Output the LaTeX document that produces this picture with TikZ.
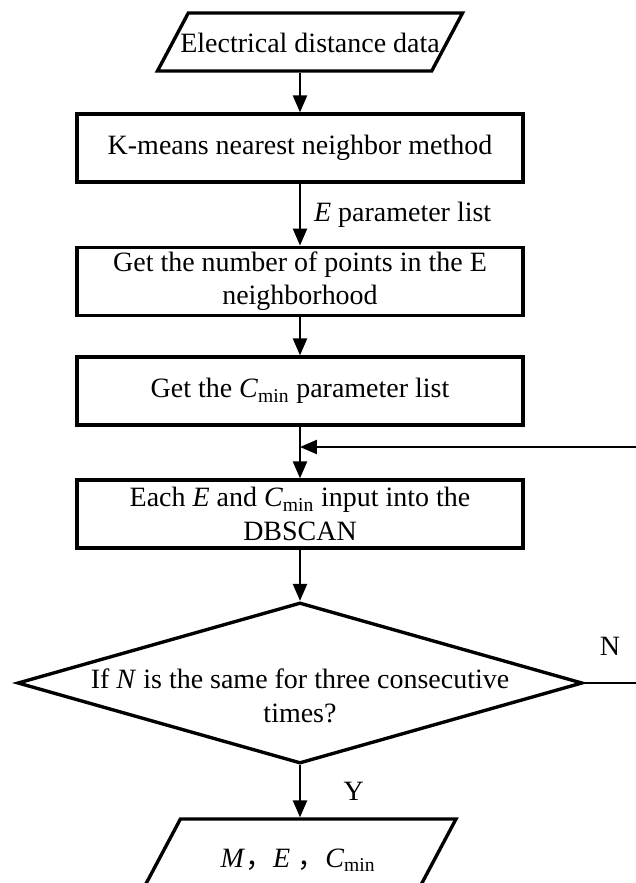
\documentclass[tikz,border=0pt]{standalone}
\usepackage{fontspec}
\setmainfont{Liberation Serif}
\newfontfamily\cjk{Noto Sans CJK SC}
\usetikzlibrary{shapes.geometric,arrows.meta}
\newcommand{\cmin}{\textit{C}\textsubscript{min}}

\begin{document}
\begin{tikzpicture}[font=\fontsize{19.9}{23.8}\selectfont,
    box/.style={draw,line width=2.4pt,minimum width=11.15cm,minimum height=1.7cm,align=center,inner sep=2pt},
    io/.style={draw,line width=2.4pt,trapezium,trapezium left angle=62,trapezium right angle=118,
      trapezium stretches body=true,text height=0.5cm,text depth=0cm,inner xsep=2pt},
    decision/.style={draw,line width=2.4pt,diamond,minimum width=14.125cm,minimum height=4.025cm,inner sep=0pt},
    flow/.style={line width=1.4pt,-{Triangle[length=12pt,width=10pt]}}]
  \useasboundingbox (0,0) rectangle (15.9,-22.075);
  \node[io,inner xsep=-0.2cm,inner ysep=0.475cm] (data) at (7.75,-1.05) {Electrical distance data};
  \node[box] (kmeans) at (7.5,-3.7) {K-means nearest neighbor method};
  \node[box] (count) at (7.5,-7.03) {Get the number of points in the E\\neighborhood};
  \node[box] (cminlist) at (7.5,-9.775) {Get the \cmin{} parameter list};
  \node[box] (dbscan) at (7.5,-12.85) {Each \textit{E} and \cmin{} input into the\\DBSCAN};
  \node[decision] (check) at (7.5,-17.075) {};
  \node[align=center,yshift=-0.32cm] (checktxt) at (check) {If \textit{N} is the same for three consecutive\\times?};
  \node[io,minimum width=7.9cm,inner ysep=0.7cm] (result) at (7.45,-21.425)
    {\textit{M}{\cjk ，}\textit{E} {\cjk ，}\cmin};
  \coordinate (loopin) at (15.9,-11.175);
  \coordinate (noout) at (15.9,-17.075);
  % main flow
  \draw[flow] (data.south -| kmeans.north) -- (kmeans.north);
  \draw[flow] (kmeans) -- node[right=6pt] {\textit{E} parameter list} (count);
  \draw[flow] (count) -- (cminlist);
  \draw[flow] (cminlist) -- (dbscan);
  \draw[flow] (loopin) -- (loopin -| cminlist.south);
  \draw[flow] (dbscan) -- (check);
  \draw[line width=1.4pt] (check.east) -- node[above=0.55cm] {N} (noout);
  \draw[flow] (check) -- node[right=0.95cm] {Y} (result.north -| check.south);
\end{tikzpicture}
\end{document}
